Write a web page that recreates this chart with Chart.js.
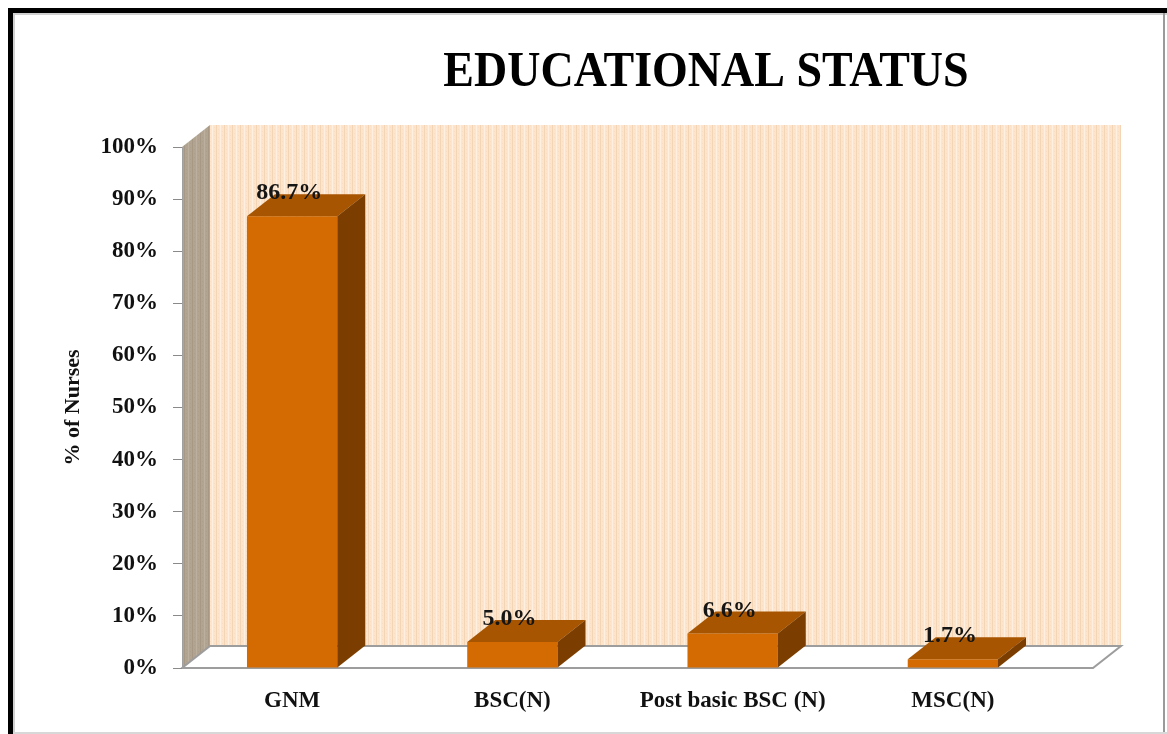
<!DOCTYPE html>
<html lang="en">
<head>
  <meta charset="UTF-8">
  <title>Educational Status</title>
  <style>
    html, body { margin: 0; padding: 0; background: #fff; }
    #wrap { width: 1167px; height: 734px; }
  </style>
</head>
<body>
  <div id="wrap"><canvas id="eduChart" width="1167" height="734"></canvas></div>

  <script src="https://cdn.jsdelivr.net/npm/chart.js"></script>
  <script>
    // data
    const categories = ['GNM', 'BSC(N)', 'Post basic BSC (N)', 'MSC(N)'];
    const nursePercent = [86.7, 5.0, 6.6, 1.7];
    const percentLabels = ['86.7%', '5.0%', '6.6%', '1.7%'];

    const SERIF = '"Liberation Serif", "Times New Roman", serif';
    const DX = 28, DY = 22;      // depth of the 3d box
    const FLOOR_EXTRA = 30;      // floor/wall run a bit past the last category

    // faint striped fill for the walls
    function wallPattern(ctx, base, dark, light) {
      const c = document.createElement('canvas');
      c.width = 8; c.height = 4;
      const p = c.getContext('2d');
      p.fillStyle = base; p.fillRect(0, 0, 8, 4);
      p.fillStyle = dark; p.fillRect(0, 0, 1, 4);
      p.fillStyle = light; p.fillRect(4, 0, 1, 4);
      p.fillStyle = 'rgba(0,0,0,0.025)'; p.fillRect(2, 1, 1, 1); p.fillRect(6, 3, 1, 1);
      return ctx.createPattern(c, 'repeat');
    }

    function poly(ctx, pts, fill, stroke) {
      ctx.beginPath();
      ctx.moveTo(pts[0][0], pts[0][1]);
      for (let i = 1; i < pts.length; i++) ctx.lineTo(pts[i][0], pts[i][1]);
      ctx.closePath();
      if (fill) { ctx.fillStyle = fill; ctx.fill(); }
      if (stroke) { ctx.strokeStyle = stroke; ctx.stroke(); }
    }

    // frame, walls, floor and title
    const backdrop = {
      id: 'backdrop',
      beforeDraw(chart) {
        const ctx = chart.ctx;
        const { left, top, bottom, right } = chart.chartArea;
        const r = right + FLOOR_EXTRA;
        ctx.save();
        ctx.fillStyle = '#fff';
        ctx.fillRect(0, 0, chart.width, chart.height);

        // back wall
        poly(ctx, [[left + DX, top - DY], [r + DX, top - DY], [r + DX, bottom - DY], [left + DX, bottom - DY]],
          wallPattern(ctx, '#fde4ca', '#f3d4b4', '#fff0df'));
        // side wall
        poly(ctx, [[left, top], [left + DX, top - DY], [left + DX, bottom - DY], [left, bottom]],
          wallPattern(ctx, '#b1a491', '#a69884', '#bcaf9d'));
        // floor
        ctx.lineWidth = 2;
        poly(ctx, [[left, bottom], [left + DX, bottom - DY], [r + DX, bottom - DY], [r, bottom]], '#fff', '#9d9d9d');

        // outer frame
        ctx.fillStyle = '#000';
        ctx.fillRect(8, 8, chart.width - 8, 5);
        ctx.fillRect(8, 8, 5, chart.height - 8);
        ctx.fillStyle = '#d0d0d0';
        ctx.fillRect(13, 13, chart.width - 13, 2);
        ctx.fillRect(13, 13, 2, chart.height - 13);
        ctx.fillStyle = '#9a9a9a';
        ctx.fillRect(chart.width - 4, 13, 2, chart.height - 13);
        ctx.fillStyle = '#d8d8d8';
        ctx.fillRect(13, chart.height - 2, chart.width - 13, 2);

        // chart title, slightly tall lettering
        ctx.fillStyle = '#000';
        ctx.font = 'bold 46px ' + SERIF;
        ctx.textAlign = 'center';
        ctx.textBaseline = 'alphabetic';
        ctx.translate(706, 86);
        ctx.scale(1, 1.12);
        ctx.fillText('EDUCATIONAL STATUS', 0, 0);
        ctx.restore();
      }
    };

    // 3d boxes and value labels on top of the bar elements
    const boxes = {
      id: 'boxes',
      afterDatasetsDraw(chart) {
        const ctx = chart.ctx;
        const meta = chart.getDatasetMeta(0);
        ctx.save();
        meta.data.forEach((bar, i) => {
          const { x, y, base, width } = bar.getProps(['x', 'y', 'base', 'width'], true);
          const l = x - width / 2, r = x + width / 2;
          poly(ctx, [[l, y], [r, y], [r, base], [l, base]], '#d46a02');
          poly(ctx, [[l, y], [l + DX, y - DY], [r + DX, y - DY], [r, y]], '#a85501');
          poly(ctx, [[r, y], [r + DX, y - DY], [r + DX, base - DY], [r, base]], '#7c3e00');

          ctx.fillStyle = '#151515';
          ctx.font = 'bold 24px ' + SERIF;
          ctx.textAlign = 'center';
          ctx.textBaseline = 'alphabetic';
          ctx.fillText(percentLabels[i], x - 3, y - DY + 5);
        });
        ctx.restore();
      }
    };

    const tickFont = { family: SERIF, size: 23, weight: 'bold' };

    new Chart(document.getElementById('eduChart'), {
      type: 'bar',
      data: {
        labels: categories,
        datasets: [{
          label: '% of Nurses',
          data: nursePercent,
          backgroundColor: 'rgba(0,0,0,0)',
          borderWidth: 0,
          categoryPercentage: 0.41,
          barPercentage: 1
        }]
      },
      options: {
        responsive: false,
        animation: false,
        layout: { padding: { left: 60, top: 147, right: 104, bottom: 0 } },
        plugins: {
          legend: { display: false },
          tooltip: { enabled: false }
        },
        scales: {
          x: {
            grid: { display: false, drawTicks: false },
            border: { display: false },
            ticks: { font: tickFont, color: '#111', padding: 19, maxRotation: 0 },
            afterFit(s) { s.height = 66; }
          },
          y: {
            min: 0,
            max: 100,
            ticks: {
              stepSize: 10,
              font: tickFont,
              color: '#111',
              padding: 15,
              callback: v => v + '%'
            },
            grid: { drawOnChartArea: false, tickLength: 9, color: '#8a8a8a' },
            border: { color: '#a0a0a0' },
            title: {
              display: true,
              text: '% of Nurses',
              font: { family: SERIF, size: 22, weight: 'bold' },
              color: '#111',
              padding: 0
            },
            afterFit(s) { s.width = 122; }
          }
        }
      },
      plugins: [backdrop, boxes]
    });
  </script>
</body>
</html>
